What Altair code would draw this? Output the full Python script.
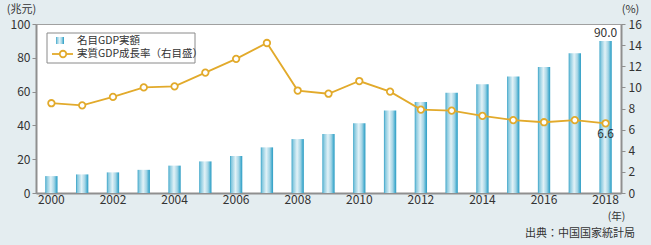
import altair as alt
import pandas as pd

years = list(range(2000, 2019))
nominal_gdp = [10.0, 11.0, 12.2, 13.7, 16.2, 18.7, 21.9, 27.0, 31.9, 34.9,
               41.2, 48.8, 53.9, 59.3, 64.4, 68.9, 74.6, 82.7, 90.0]
real_growth = [8.5, 8.3, 9.1, 10.0, 10.1, 11.4, 12.7, 14.2, 9.7, 9.4,
               10.6, 9.6, 7.9, 7.8, 7.3, 6.9, 6.7, 6.9, 6.6]
x_tick_years = [2000, 2002, 2004, 2006, 2008, 2010, 2012, 2014, 2016, 2018]
left_ticks = [0, 20, 40, 60, 80, 100]
right_ticks = [0, 2, 4, 6, 8, 10, 12, 14, 16]
legend_labels = ["名目GDP実額", "実質GDP成長率（右目盛）"]
source_note = "出典：中国国家統計局"

FONT = "Noto Sans CJK JP"
TXT = "#333333"
GOLD = "#e2aa2b"
AXIS_GRAY = "#8f8f8f"

df = pd.DataFrame({"year": years, "gdp": nominal_gdp, "growth": real_growth})
one = pd.DataFrame({"k": [0]})

bar_grad = {
    "gradient": "linear", "x1": 0, "x2": 1, "y1": 0, "y2": 0,
    "stops": [
        {"offset": 0.0, "color": "#35a2c7"},
        {"offset": 0.12, "color": "#86c8de"},
        {"offset": 0.45, "color": "#e2f2f7"},
        {"offset": 0.72, "color": "#a3d4e5"},
        {"offset": 0.9, "color": "#4cafd0"},
        {"offset": 1.0, "color": "#2e9cc3"},
    ],
}

xenc = alt.X("year:O",
             scale=alt.Scale(paddingInner=0.6, paddingOuter=0.3),
             axis=alt.Axis(values=x_tick_years, labelAngle=0, ticks=False,
                           title="(年)", titleX=580, titleY=23,
                           titleAlign="center", titleBaseline="middle",
                           titleFontWeight="normal", titleFontSize=10.5,
                           titleColor=TXT, labelPadding=1,
                           domainColor=AXIS_GRAY, domainWidth=2))

left_axis = alt.Axis(values=left_ticks, title="(兆元)", titleAngle=0,
                     titleX=-15, titleY=-15, titleAlign="center",
                     titleBaseline="middle", titleFontWeight="normal",
                     titleFontSize=11, titleColor=TXT, grid=False,
                     tickSize=4, tickColor=AXIS_GRAY, orient="left",
                     domainColor=AXIS_GRAY, domainWidth=2, labelPadding=2,
                     labelOverlap=False)
right_axis = alt.Axis(values=right_ticks, title="(%)", titleAngle=0,
                      titleX=9, titleY=-15, titleAlign="center",
                      titleBaseline="middle", titleFontWeight="normal",
                      titleFontSize=11, titleColor=TXT, grid=False,
                      tickSize=4, tickColor=AXIS_GRAY, orient="right",
                      domainColor=AXIS_GRAY, domainWidth=2, labelPadding=3,
                      labelOverlap=False)

gdp_y = alt.Y("gdp:Q", scale=alt.Scale(domain=[0, 100]), axis=left_axis)
gr_y = alt.Y("growth:Q", scale=alt.Scale(domain=[0, 16]), axis=right_axis)

bars = alt.Chart(df).mark_bar(color=bar_grad).encode(x=xenc, y=gdp_y)

bar_label = alt.Chart(df).transform_filter("datum.year == 2018").mark_text(
    dy=-8, font=FONT, fontSize=12, color=TXT).encode(
    x=xenc, y=gdp_y, text=alt.Text("gdp:Q", format=".1f"))

line = alt.Chart(df).mark_line(color=GOLD, strokeWidth=1.8).encode(x=xenc, y=gr_y)
pts = alt.Chart(df).mark_point(filled=True, fill="white", stroke=GOLD,
                               strokeWidth=1.8, size=42, opacity=1).encode(x=xenc, y=gr_y)
pt_label = alt.Chart(df).transform_filter("datum.year == 2018").mark_text(
    dy=11, font=FONT, fontSize=12, color=TXT).encode(
    x=xenc, y=gr_y, text=alt.Text("growth:Q", format=".1f"))

left_layer = alt.layer(bars, bar_label)
right_layer = alt.layer(line, pts, pt_label)
data_layer = alt.layer(left_layer, right_layer).resolve_scale(y="independent")

# legend box and notes (decoration)
leg_box = alt.Chart(one).mark_rect(fill="white", stroke="#8a8a8a", strokeWidth=1).encode(
    x=alt.value(11), x2=alt.value(159), y=alt.value(9), y2=alt.value(39))
leg_sw = alt.Chart(one).mark_rect(fill=bar_grad).encode(
    x=alt.value(20), x2=alt.value(28), y=alt.value(13), y2=alt.value(20))
leg_rule = alt.Chart(one).mark_rule(color=GOLD, strokeWidth=1.8).encode(
    x=alt.value(16), x2=alt.value(37), y=alt.value(30))
leg_pt = alt.Chart(one).mark_point(filled=True, fill="white", stroke=GOLD,
                                   strokeWidth=1.8, size=42, opacity=1).encode(
    x=alt.value(27), y=alt.value(30))
leg_t1 = alt.Chart(one).mark_text(align="left", baseline="middle", font=FONT,
                                  fontSize=10.5, color=TXT, text=legend_labels[0]).encode(
    x=alt.value(41), y=alt.value(16.5))
leg_t2 = alt.Chart(one).mark_text(align="left", baseline="middle", font=FONT,
                                  fontSize=10.5, color=TXT, text=legend_labels[1]).encode(
    x=alt.value(41), y=alt.value(30))
src = alt.Chart(one).mark_text(align="right", baseline="middle", font=FONT,
                               fontSize=11, color=TXT, text=source_note).encode(
    x=alt.value(599), y=alt.value(210))
deco = alt.layer(leg_box, leg_sw, leg_rule, leg_pt, leg_t1, leg_t2, src)

chart = alt.layer(data_layer, deco).properties(
    width=585, height=169,
    padding={"left": 36, "top": 24, "right": 30, "bottom": 52},
    autosize=alt.AutoSizeParams(type="none"),
    background="#e4edf0",
).configure_view(fill="white", stroke="#a0a0a0", strokeWidth=1).configure_axis(
    labelFont=FONT, titleFont=FONT, labelFontSize=12, labelColor=TXT
).configure_text(font=FONT)

chart.save("out.html", embed_options={"renderer": "svg", "actions": False})
